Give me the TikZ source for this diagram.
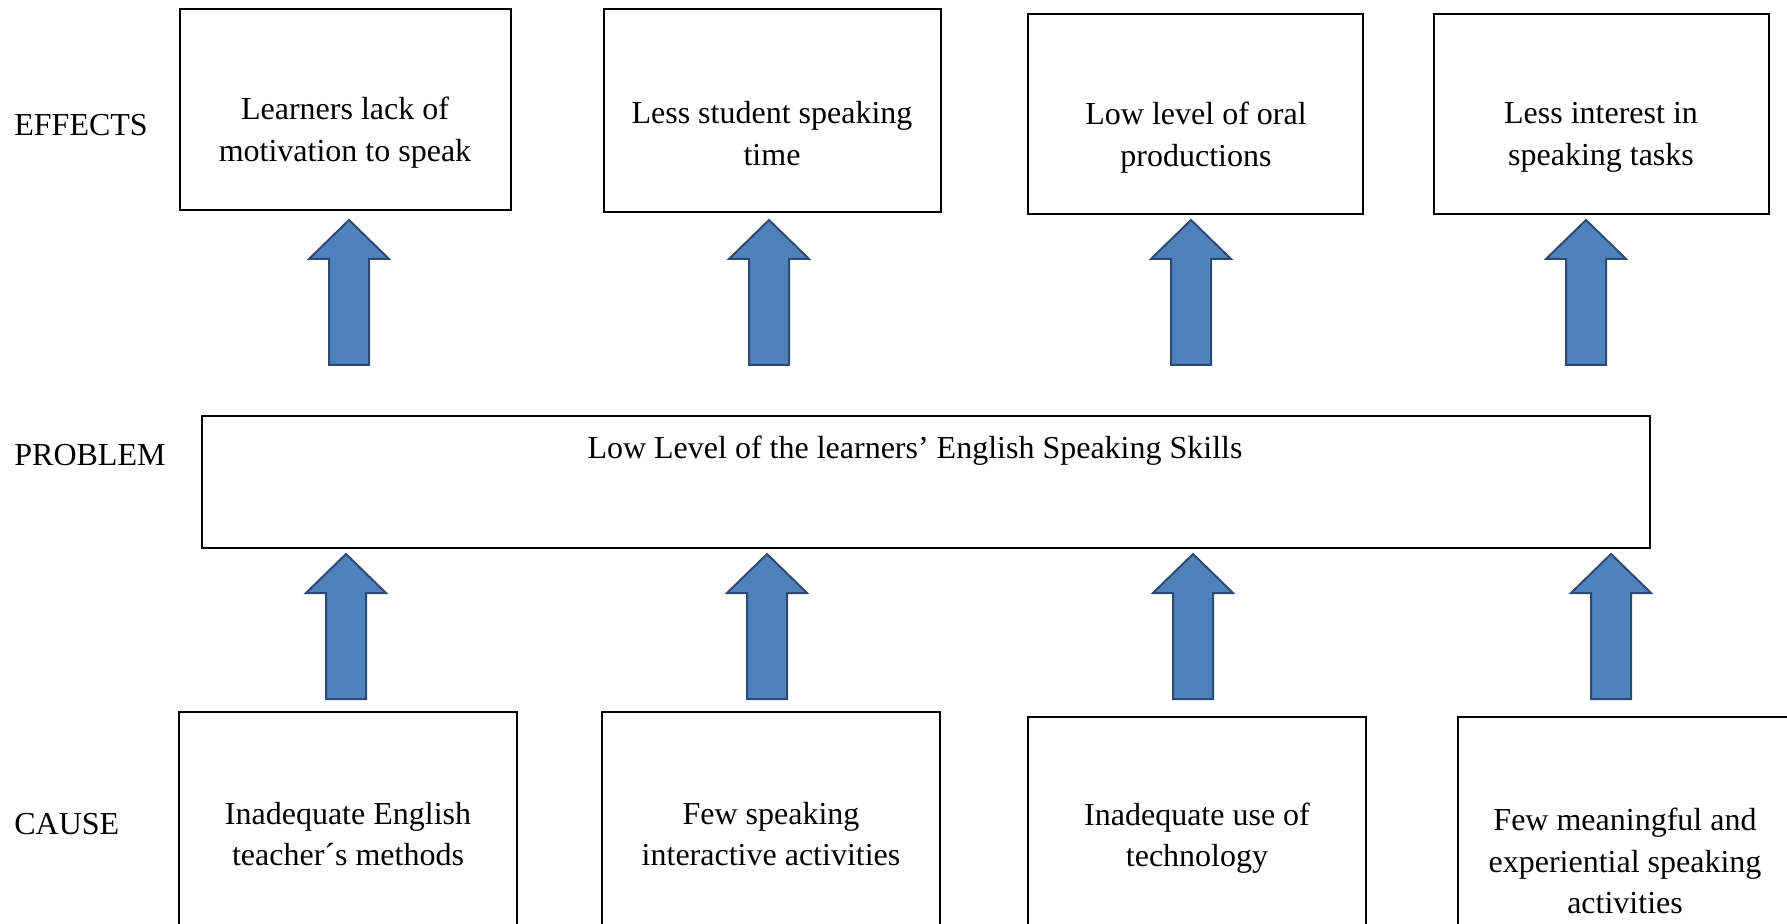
\documentclass[tikz,border=0pt]{standalone}
\usepackage{fontspec}
\setmainfont{Liberation Serif}
\definecolor{arrowfill}{HTML}{4F81BD}
\definecolor{arrowline}{HTML}{2C4A72}
\begin{document}
\begin{tikzpicture}[x=0.5pt,y=-0.5pt,
  every node/.style={font=\fontsize{16}{20.8}\selectfont},
  box/.style={draw=black, line width=1.1pt, rectangle, inner sep=0pt},
  txt/.style={align=center, inner sep=0pt},
  lbl/.style={anchor=west, inner sep=0pt},
  arrowsty/.style={fill=arrowfill, draw=arrowline, line width=1pt, line join=miter},
  uparrow/.pic={\draw[arrowsty] (0,0) -- (40,39) -- (20,39) -- (20,145) -- (-20,145) -- (-20,39) -- (-40,39) -- cycle;}
]
\useasboundingbox (0,0) rectangle (1787,924);
\clip (0,0) rectangle (1787,924);

% row labels
\node[lbl] (leff) at (14,125) {EFFECTS};
\node[lbl] (lprob) at (14,455) {PROBLEM};
\node[lbl] (lcause) at (14,824) {CAUSE};

% effect boxes
\node[box, minimum width=165.5pt, minimum height=100.5pt] (e1) at (345.5,109.5) {};
\node[box, minimum width=168.5pt, minimum height=101.5pt] (e2) at (772.5,110.5) {};
\node[box, minimum width=167.5pt, minimum height=100pt] (e3) at (1195.5,114) {};
\node[box, minimum width=167.5pt, minimum height=100pt] (e4) at (1601.5,114) {};
\node[txt] (e1t) at (345,132.5) {Learners lack of\\motivation to speak};
\node[txt] (e2t) at (772,133.5) {Less student speaking\\time};
\node[txt] (e3t) at (1196,137.5) {Low level of oral\\productions};
\node[txt] (e4t) at (1601,137.5) {Less interest in\\speaking tasks};

% problem box
\node[box, minimum width=724pt, minimum height=66pt] (p) at (926,482) {};
\node[txt] (pt) at (915,450.5) {Low Level of the learners’ English Speaking Skills};

% cause boxes (bottoms run off the page)
\node[box, minimum width=169pt, minimum height=122pt, align=center] (c1) at (348,834) {Inadequate English\\teacher´s methods};
\node[box, minimum width=169pt, minimum height=122pt, align=center] (c2) at (771,834) {Few speaking\\interactive activities};
\node[box, minimum width=169pt, minimum height=121pt, align=center] (c3) at (1197,838) {Inadequate use of\\technology};
\node[box, minimum width=175pt, minimum height=142pt, align=center] (c4) at (1633,859) {};
\node[txt] (c4t) at (1625,861) {Few meaningful and\\experiential speaking\\activities};

% arrows: effects row
\coordinate (a1) at (349,220);
\coordinate (a2) at (769,220);
\coordinate (a3) at (1191,220);
\coordinate (a4) at (1586,220);
\pic at (a1) {uparrow};
\pic at (a2) {uparrow};
\pic at (a3) {uparrow};
\pic at (a4) {uparrow};

% arrows: causes row
\coordinate (b1) at (346,554);
\coordinate (b2) at (767,554);
\coordinate (b3) at (1193,554);
\coordinate (b4) at (1611,554);
\pic at (b1) {uparrow};
\pic at (b2) {uparrow};
\pic at (b3) {uparrow};
\pic at (b4) {uparrow};
\end{tikzpicture}
\end{document}
